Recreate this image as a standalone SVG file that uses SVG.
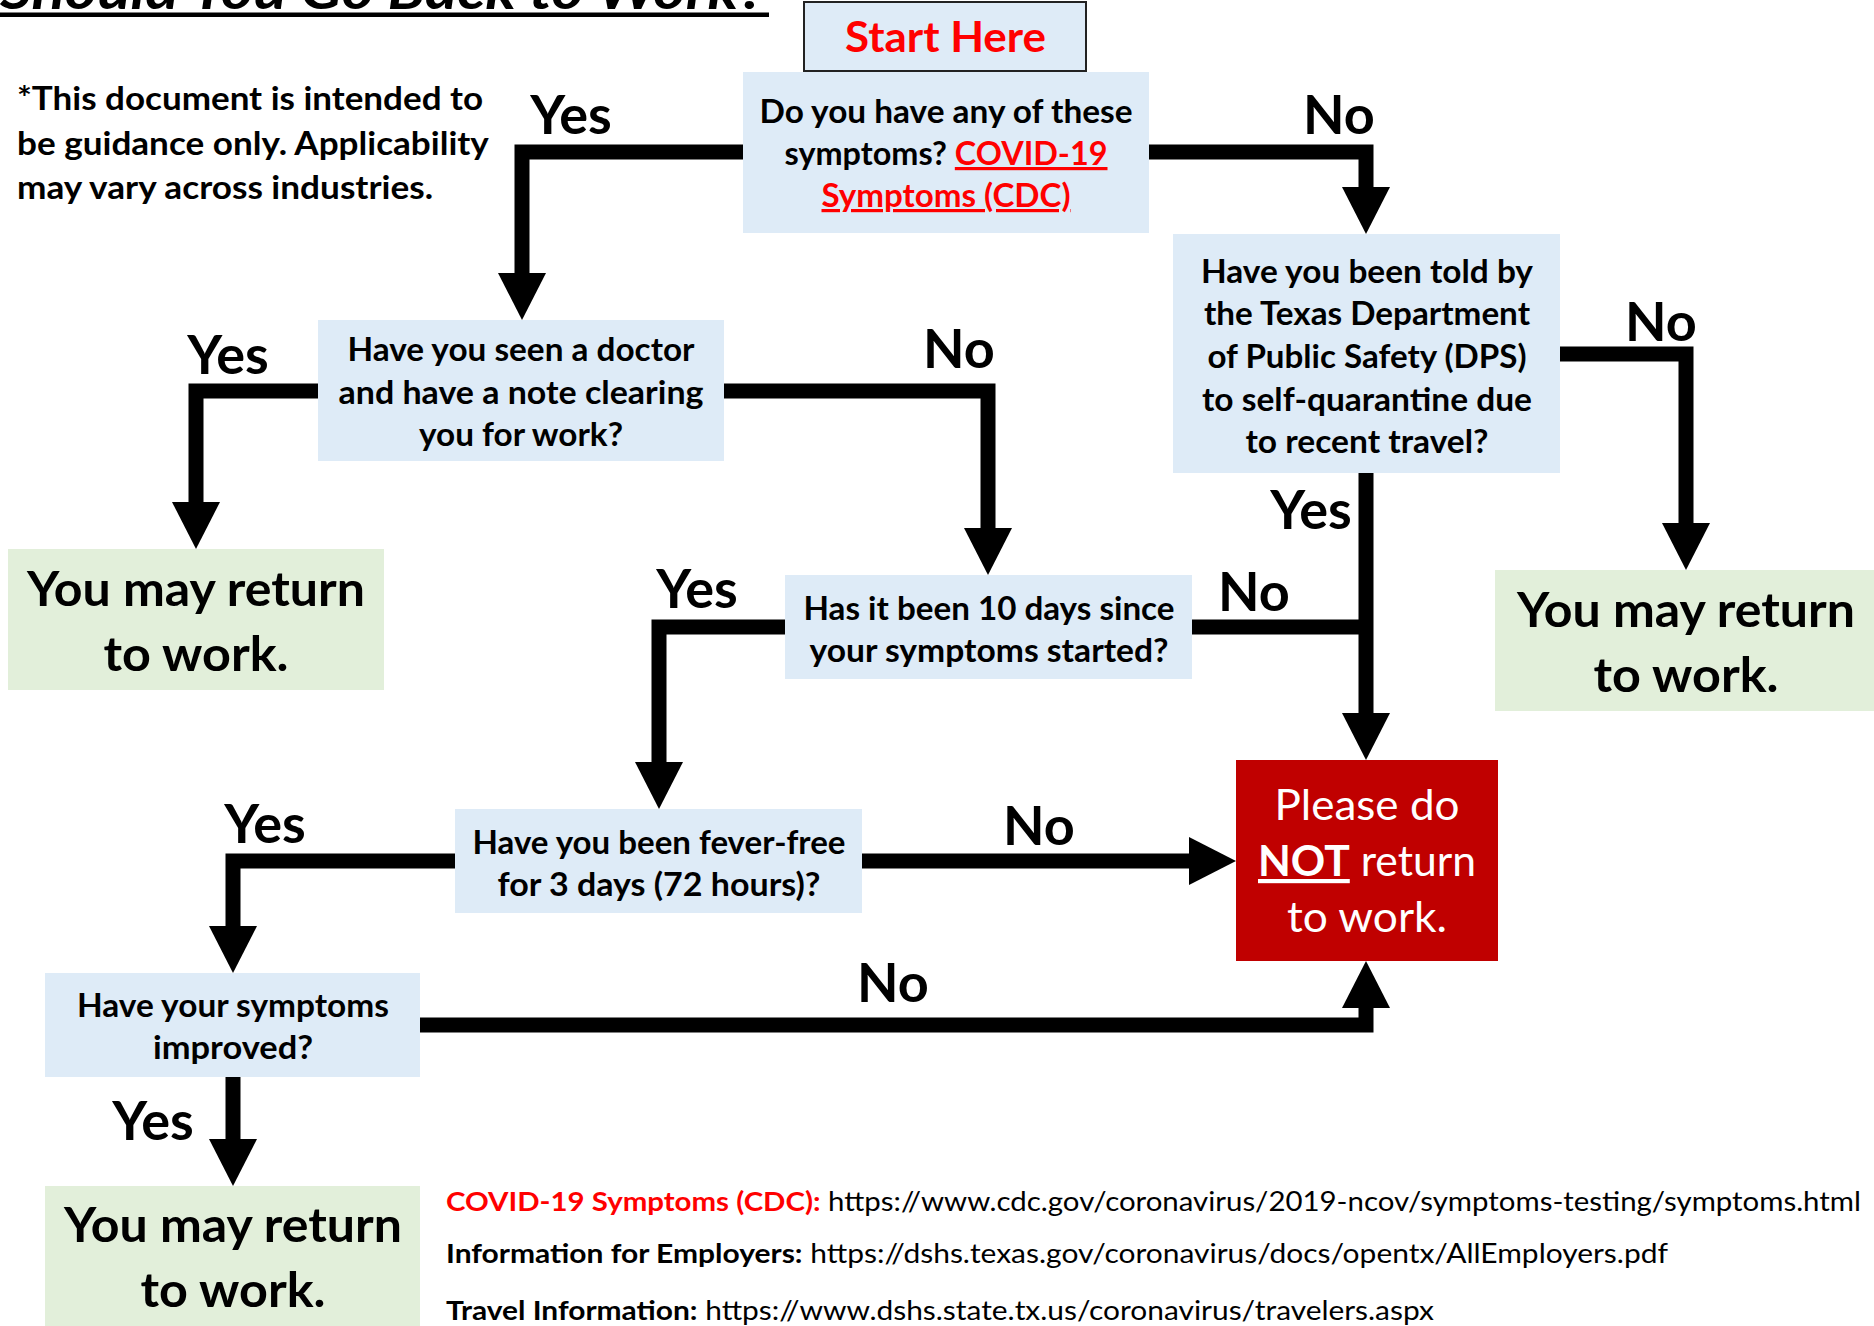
<svg xmlns="http://www.w3.org/2000/svg" width="1874" height="1326" viewBox="0 0 1874 1326">
<style>
.q{fill:#DEEBF7}
.g{fill:#E2EFDA}
.r{fill:#C00000}
.f{font-family:Lato,"Open Sans","Liberation Sans",sans-serif}
.nt{font-family:Lato,"Open Sans","Liberation Sans",sans-serif;font-weight:700;font-size:32px;fill:#000;text-anchor:middle}
.gt{font-family:Lato,"Open Sans","Liberation Sans",sans-serif;font-weight:700;font-size:47px;fill:#000;text-anchor:middle}
.lb{font-family:Lato,"Open Sans","Liberation Sans",sans-serif;font-weight:700;font-size:54px;fill:#000;text-anchor:middle}
.rt{font-family:Lato,"Open Sans","Liberation Sans",sans-serif;font-weight:400;font-size:42px;fill:#fff;text-anchor:middle}
.ref{font-family:Lato,"Open Sans","Liberation Sans",sans-serif;font-size:27px;fill:#000}
.red{fill:#FF0000}
.ln{fill:none;stroke:#000;stroke-width:15;stroke-linejoin:miter;stroke-linecap:butt}
.ah{fill:#000}
</style>

<g id="title">
<text class="f" x="0" y="9" font-size="54" font-weight="700" font-style="italic" textLength="765" lengthAdjust="spacingAndGlyphs">Should You Go Back to Work?</text>
<rect x="0" y="12.5" width="769" height="4.5" fill="#000"/>
</g>

<g id="disclaimer">
<text class="f" font-weight="700" font-size="33" fill="#000">
<tspan x="17" y="110" textLength="466" lengthAdjust="spacingAndGlyphs">*This document is intended to</tspan>
<tspan x="17" y="155" textLength="471" lengthAdjust="spacingAndGlyphs">be guidance only. Applicability</tspan>
<tspan x="17" y="199" textLength="416" lengthAdjust="spacingAndGlyphs">may vary across industries.</tspan>
</text>
</g>

<g id="connectors">
<path class="ln" d="M743,152 H522 V274"/>
<polygon class="ah" points="498,273 546,273 522,320"/>
<path class="ln" d="M1149,152 H1366 V188"/>
<polygon class="ah" points="1342,187 1390,187 1366,234"/>
<path class="ln" d="M318,391 H196 V503"/>
<polygon class="ah" points="172,502 220,502 196,549"/>
<path class="ln" d="M724,391 H988 V529"/>
<polygon class="ah" points="964,528 1012,528 988,575"/>
<path class="ln" d="M1560,354 H1686 V524"/>
<polygon class="ah" points="1662,523 1710,523 1686,570"/>
<path class="ln" d="M1366,473 V714"/>
<polygon class="ah" points="1342,713 1390,713 1366,760"/>
<path class="ln" d="M1192,627 H1366"/>
<path class="ln" d="M785,627 H659 V763"/>
<polygon class="ah" points="635,762 683,762 659,809"/>
<path class="ln" d="M862,861 H1190"/>
<polygon class="ah" points="1189,837 1189,885 1236,861"/>
<path class="ln" d="M455,861 H233 V927"/>
<polygon class="ah" points="209,926 257,926 233,973"/>
<path class="ln" d="M420,1025 H1366 V1007"/>
<polygon class="ah" points="1342,1008 1390,1008 1366,961"/>
<path class="ln" d="M233,1077 V1140"/>
<polygon class="ah" points="209,1139 257,1139 233,1186"/>
</g>

<g id="labels">
<text class="lb" x="571" y="134">Yes</text>
<text class="lb" x="1339" y="134">No</text>
<text class="lb" x="228" y="374">Yes</text>
<text class="lb" x="959" y="368">No</text>
<text class="lb" x="1661" y="341">No</text>
<text class="lb" x="1311" y="529">Yes</text>
<text class="lb" x="697" y="608">Yes</text>
<text class="lb" x="1254" y="611">No</text>
<text class="lb" x="265" y="843">Yes</text>
<text class="lb" x="1039" y="845">No</text>
<text class="lb" x="893" y="1002">No</text>
<text class="lb" x="153" y="1140">Yes</text>
</g>

<g id="start">
<rect x="804" y="2" width="282" height="69" class="q" stroke="#222" stroke-width="2"/>
<text class="f" x="945.5" y="52" font-size="42" font-weight="700" fill="#FF0000" text-anchor="middle" textLength="201" lengthAdjust="spacingAndGlyphs">Start Here</text>
</g>

<g id="q-symptoms">
<rect x="743" y="72" width="406" height="161" class="q"/>
<text class="nt" x="946" y="123" textLength="373" lengthAdjust="spacingAndGlyphs">Do you have any of these</text>
<text class="nt" x="946" y="165" textLength="323" lengthAdjust="spacingAndGlyphs">symptoms? <tspan style="fill:#FF0000" text-decoration="underline">COVID-19</tspan></text>
<text class="nt" x="946" y="207" textLength="249" lengthAdjust="spacingAndGlyphs" style="fill:#FF0000" text-decoration="underline">Symptoms (CDC)</text>
</g>

<g id="q-dps">
<rect x="1173" y="234" width="387" height="239" class="q"/>
<text class="nt" x="1367" y="283" textLength="332" lengthAdjust="spacingAndGlyphs">Have you been told by</text>
<text class="nt" x="1367" y="325" textLength="326" lengthAdjust="spacingAndGlyphs">the Texas Department</text>
<text class="nt" x="1367" y="368" textLength="319" lengthAdjust="spacingAndGlyphs">of Public Safety (DPS)</text>
<text class="nt" x="1367" y="411" textLength="330" lengthAdjust="spacingAndGlyphs">to self-quarantine due</text>
<text class="nt" x="1367" y="453" textLength="243" lengthAdjust="spacingAndGlyphs">to recent travel?</text>
</g>

<g id="q-doctor">
<rect x="318" y="320" width="406" height="141" class="q"/>
<text class="nt" x="521" y="361" textLength="347" lengthAdjust="spacingAndGlyphs">Have you seen a doctor</text>
<text class="nt" x="521" y="404" textLength="365" lengthAdjust="spacingAndGlyphs">and have a note clearing</text>
<text class="nt" x="521" y="446" textLength="204" lengthAdjust="spacingAndGlyphs">you for work?</text>
</g>

<g id="q-10days">
<rect x="785" y="575" width="407" height="104" class="q"/>
<text class="nt" x="989" y="620" textLength="371" lengthAdjust="spacingAndGlyphs">Has it been 10 days since</text>
<text class="nt" x="989" y="662" textLength="359" lengthAdjust="spacingAndGlyphs">your symptoms started?</text>
</g>

<g id="q-fever">
<rect x="455" y="809" width="407" height="104" class="q"/>
<text class="nt" x="659" y="854" textLength="373" lengthAdjust="spacingAndGlyphs">Have you been fever-free</text>
<text class="nt" x="659" y="896" textLength="323" lengthAdjust="spacingAndGlyphs">for 3 days (72 hours)?</text>
</g>

<g id="q-improved">
<rect x="45" y="973" width="375" height="104" class="q"/>
<text class="nt" x="233" y="1017" textLength="312" lengthAdjust="spacingAndGlyphs">Have your symptoms</text>
<text class="nt" x="233" y="1059" textLength="160" lengthAdjust="spacingAndGlyphs">improved?</text>
</g>

<g id="return-left">
<rect x="8" y="549" width="376" height="141" class="g"/>
<text class="gt" x="196" y="606" textLength="338" lengthAdjust="spacingAndGlyphs">You may return</text>
<text class="gt" x="196" y="671" textLength="185" lengthAdjust="spacingAndGlyphs">to work.</text>
</g>

<g id="return-right">
<rect x="1495" y="570" width="379" height="141" class="g"/>
<text class="gt" x="1686" y="627" textLength="338" lengthAdjust="spacingAndGlyphs">You may return</text>
<text class="gt" x="1686" y="692" textLength="185" lengthAdjust="spacingAndGlyphs">to work.</text>
</g>

<g id="return-bottom">
<rect x="45" y="1186" width="375" height="140" class="g"/>
<text class="gt" x="233" y="1242" textLength="338" lengthAdjust="spacingAndGlyphs">You may return</text>
<text class="gt" x="233" y="1307" textLength="185" lengthAdjust="spacingAndGlyphs">to work.</text>
</g>

<g id="do-not-return">
<rect x="1236" y="760" width="262" height="201" class="r"/>
<text class="rt" x="1367" y="820" textLength="185" lengthAdjust="spacingAndGlyphs">Please do</text>
<text class="rt" x="1367" y="876" textLength="218" lengthAdjust="spacingAndGlyphs"><tspan font-weight="700" text-decoration="underline">NOT</tspan> return</text>
<text class="rt" x="1367" y="932" textLength="160" lengthAdjust="spacingAndGlyphs">to work.</text>
</g>

<g id="references">
<text class="ref" x="446" y="1211" textLength="1415" lengthAdjust="spacingAndGlyphs"><tspan font-weight="700" style="fill:#FF0000">COVID-19 Symptoms (CDC):</tspan> https://www.cdc.gov/coronavirus/2019-ncov/symptoms-testing/symptoms.html</text>
<text class="ref" x="446" y="1263" textLength="1222" lengthAdjust="spacingAndGlyphs"><tspan font-weight="700">Information for Employers:</tspan> https://dshs.texas.gov/coronavirus/docs/opentx/AllEmployers.pdf</text>
<text class="ref" x="446" y="1320" textLength="988" lengthAdjust="spacingAndGlyphs"><tspan font-weight="700">Travel Information:</tspan> https://www.dshs.state.tx.us/coronavirus/travelers.aspx</text>
</g>
</svg>
